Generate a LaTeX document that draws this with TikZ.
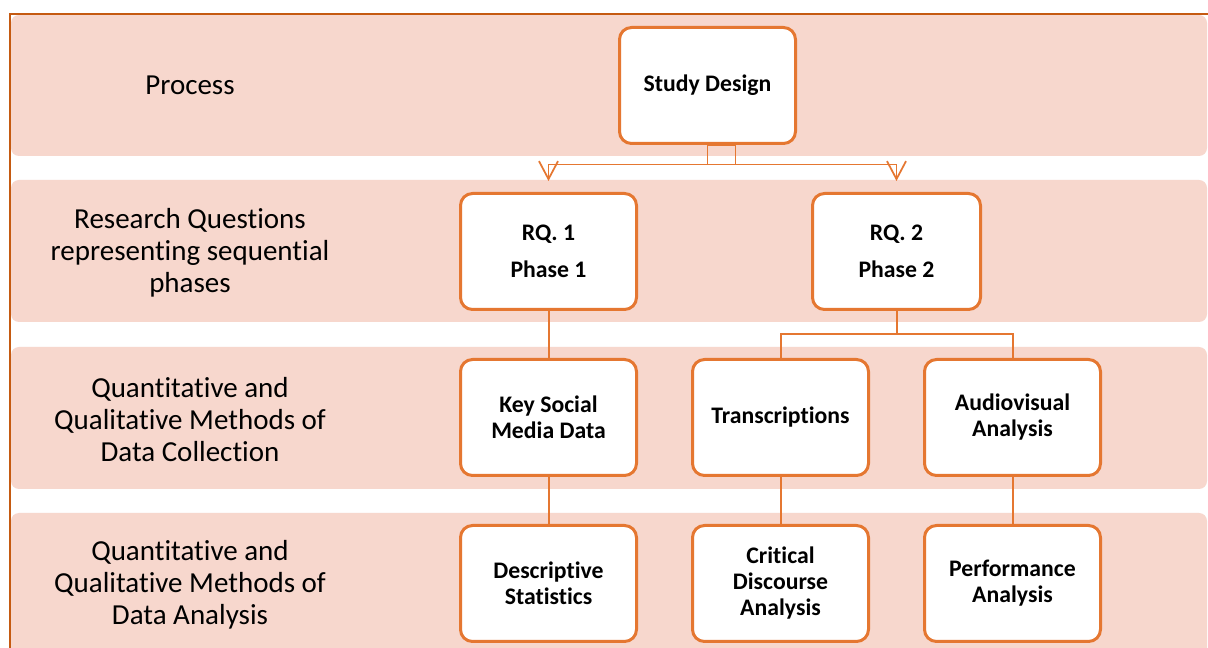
\documentclass[tikz,border=0pt]{standalone}
\usepackage{fontspec}
\setmainfont{Carlito}[Ligatures=NoCommon]
\usetikzlibrary{arrows.meta}
\definecolor{bandfill}{HTML}{F7D7CD}
\definecolor{accent}{HTML}{E57731}
\definecolor{framecol}{HTML}{C55A11}
\begin{document}
\begin{tikzpicture}[x=0.75pt,y=-0.75pt,
  band/.style={fill=bandfill, rounded corners=6pt},
  lbl/.style={font=\fontsize{21.75pt}{24pt}\selectfont, align=center, inner sep=0pt},
  box/.style={draw=accent, line width=2.25pt, fill=white, rounded corners=9pt,
    minimum width=132pt, minimum height=87pt, inner sep=0pt, align=center,
    font=\bfseries\fontsize{17.8pt}{19.5pt}\selectfont},
  conn/.style={draw=accent, line width=1.5pt},
  tip/.style={-{Straight Barb[length=13.5pt,width=14.25pt,line width=1.3pt]}, shorten >=8.25pt}
]
\clip (0,0) rectangle (1208,648);
\fill[white] (0,0) rectangle (1208,648);
% bands
\fill[band] (11,15) rectangle (1207,156);
\fill[band] (11,180) rectangle (1207,322);
\fill[band] (11,347) rectangle (1207,489);
\fill[band] (11,513) rectangle (1207,680);
% outer frame
\draw[framecol, line width=1.5pt] (10,660) -- (10,14) -- (1220,14);
% row labels
\node[lbl] (l1) at (190,85.5) {Process};
\node[lbl] (l2) at (190,253) {Research Questions\\representing sequential\\phases};
\node[lbl] (l3) at (190,420) {Quantitative and\\Qualitative Methods of\\Data Collection};
\node[lbl] (l4) at (190,585) {Quantitative and\\Qualitative Methods of\\Data Analysis};
% boxes
\node[box] (sd) at (707.5,85.5) {Study Design};
\node[box] (rq1) at (548.5,251.5) {RQ. 1\\[8.25pt]Phase 1};
\node[box, minimum width=126pt] (rq2) at (896.5,251.5) {RQ. 2\\[8.25pt]Phase 2};
\node[box] (ksm) at (548.5,417.5) {Key Social\\Media Data};
\node[box] (tr) at (780.5,417.5) {Transcriptions};
\node[box] (av) at (1012.5,417.5) {Audiovisual\\Analysis};
\node[box] (ds) at (548.5,583.5) {Descriptive\\Statistics};
\node[box] (cda) at (780.5,583.5) {Critical\\Discourse\\Analysis};
\node[box] (pa) at (1012.5,583.5) {Performance\\Analysis};
% connectors
\draw[conn, line width=1.2pt] (sd.south) rectangle ++(28,19.5);
\path (sd.south) ++(0,19.5) coordinate (hub);
\draw[conn, line width=1.2pt, tip] (hub) -| (rq1.north);
\draw[conn, line width=1.2pt, tip] (hub) -| (rq2.north);
\draw[conn] (rq1) -- (ksm);
\draw[conn] (rq2.south) -- ++(0,23) coordinate (br);
\draw[conn] (br) -| (tr.north);
\draw[conn] (br) -| (av.north);
\draw[conn] (ksm) -- (ds);
\draw[conn] (tr) -- (cda);
\draw[conn] (av) -- (pa);
\end{tikzpicture}
\end{document}
